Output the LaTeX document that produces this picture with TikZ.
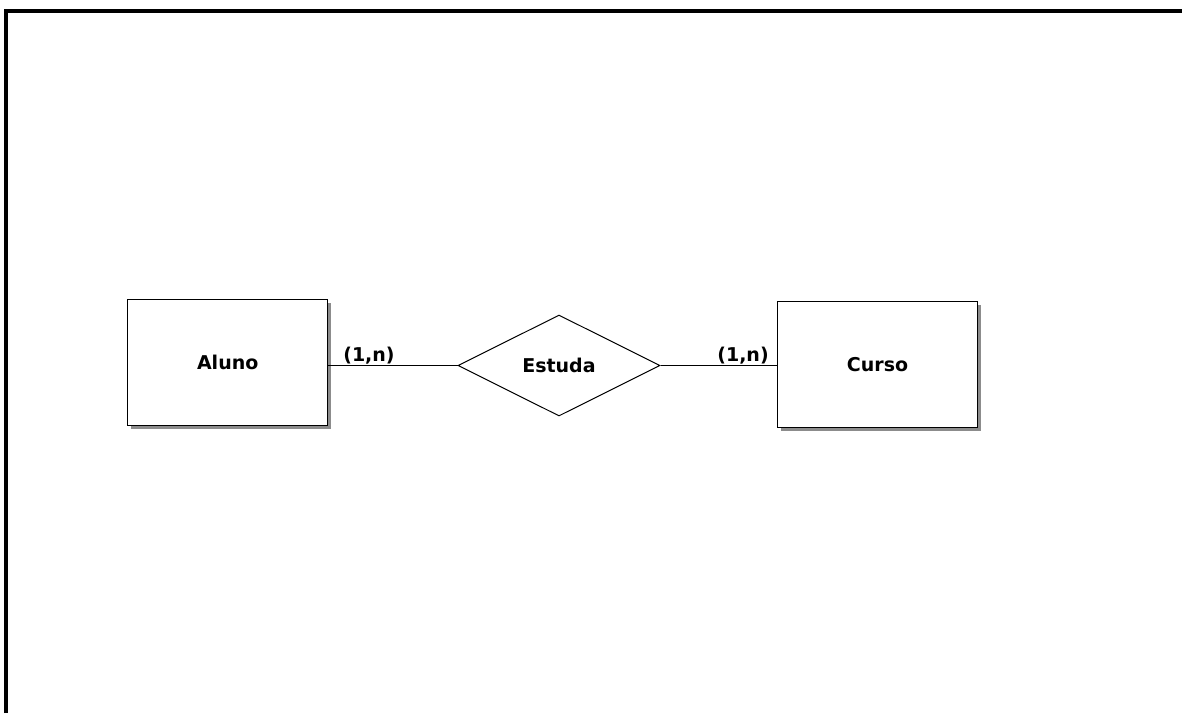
\documentclass[tikz,border=0pt]{standalone}
\usepackage{fontspec}
\setmainfont{DejaVu Sans}
\usetikzlibrary{shapes.geometric}
\begin{document}
\begin{tikzpicture}[x=1pt,y=-1pt,
  entity/.style={draw=black, line width=1.4pt, fill=white, minimum width=200pt, minimum height=126pt, inner sep=0pt, font=\fontsize{19}{22}\selectfont\bfseries},
  shadowbox/.style={fill=black!45, draw=none, minimum width=200pt, minimum height=126pt, inner sep=0pt},
  relation/.style={draw=black, line width=1pt, fill=white, shape=diamond, aspect=2, minimum width=202pt, minimum height=101pt, inner sep=0pt, font=\fontsize{19}{22}\selectfont\bfseries},
  conn/.style={draw=black, line width=1.4pt},
  card/.style={font=\fontsize{19}{22}\selectfont\bfseries, inner sep=0pt, anchor=base},
  frame/.style={draw=black, line width=4pt}]
\useasboundingbox (0,0) rectangle (1182,713);
% frame
\coordinate (f1) at (6,713);
\coordinate (f2) at (6,11);
\coordinate (f3) at (1182,11);
\draw[frame] (f1) -- (f2) -- (f3);
% shadows
\node[shadowbox] (alunoshadow) at (230.5,365.5) {};
\node[shadowbox] (cursoshadow) at (880.5,367.5) {};
% entities
\node[entity] (aluno) at (227.7,362.5) {Aluno};
\node[entity] (curso) at (877.5,364.5) {Curso};
\node[relation] (estuda) at (559,365.5) {Estuda};
% connectors
\draw[conn] (estuda.west) -- (estuda.west -| aluno.east);
\draw[conn] (estuda.east) -- (estuda.east -| curso.west);
% cardinalities
\node[card] (c1) at (369,361) {(1,n)};
\node[card] (c2) at (743,361) {(1,n)};
\end{tikzpicture}
\end{document}
